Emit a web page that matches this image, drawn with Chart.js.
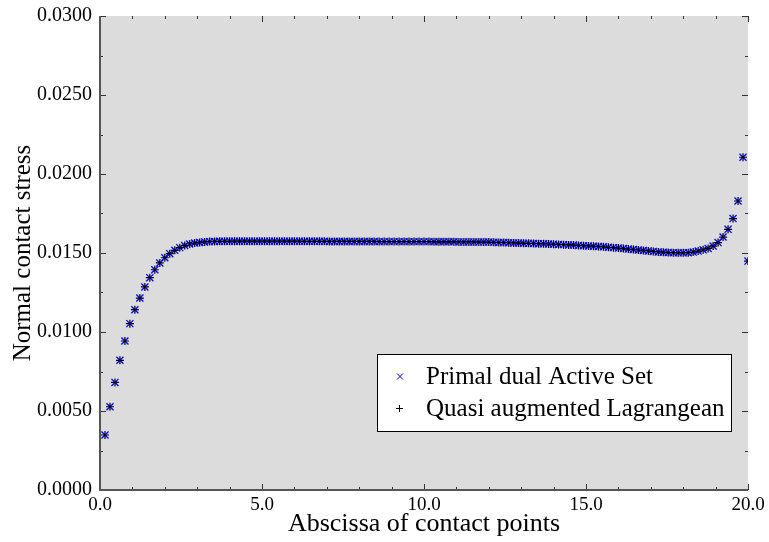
<!DOCTYPE html>
<html><head><meta charset="utf-8">
<script src="https://cdn.jsdelivr.net/npm/chart.js@4/dist/chart.umd.min.js"></script>
<style>html,body{margin:0;padding:0;background:#fff;}</style>
</head><body>
<canvas id="c" width="769" height="542" style="display:block"></canvas>
<script>
// Abscissa of the contact points
const abscissa = [
  0.154, 0.308, 0.462, 0.615, 0.769, 0.923, 1.077, 1.231, 1.385, 1.538,
  1.692, 1.846, 2.000, 2.154, 2.308, 2.462, 2.615, 2.769, 2.923, 3.077,
  3.231, 3.385, 3.538, 3.692, 3.846, 4.000, 4.154, 4.308, 4.462, 4.615,
  4.769, 4.923, 5.077, 5.231, 5.385, 5.538, 5.692, 5.846, 6.000, 6.154,
  6.308, 6.462, 6.615, 6.769, 6.923, 7.077, 7.231, 7.385, 7.538, 7.692,
  7.846, 8.000, 8.154, 8.308, 8.462, 8.615, 8.769, 8.923, 9.077, 9.231,
  9.385, 9.538, 9.692, 9.846, 10.000, 10.154, 10.308, 10.462, 10.615, 10.769,
  10.923, 11.077, 11.231, 11.385, 11.538, 11.692, 11.846, 12.000, 12.154, 12.308,
  12.462, 12.615, 12.769, 12.923, 13.077, 13.231, 13.385, 13.538, 13.692, 13.846,
  14.000, 14.154, 14.308, 14.462, 14.615, 14.769, 14.923, 15.077, 15.231, 15.385,
  15.538, 15.692, 15.846, 16.000, 16.154, 16.308, 16.462, 16.615, 16.769, 16.923,
  17.077, 17.231, 17.385, 17.538, 17.692, 17.846, 18.000, 18.154, 18.308, 18.462,
  18.615, 18.769, 18.923, 19.077, 19.231, 19.385, 19.538, 19.692, 19.846, 20.000
];
// Normal contact stress, Primal dual Active Set
const primalStress = [
  0.00348, 0.00527, 0.00681, 0.00821, 0.00943, 0.01053, 0.01141, 0.01215, 0.01285, 0.01344,
  0.01394, 0.01437, 0.01470, 0.01496, 0.01517, 0.01534, 0.01547, 0.01557, 0.01563, 0.01567,
  0.01570, 0.01572, 0.01573, 0.01574, 0.01574, 0.01575, 0.01575, 0.01575, 0.01575, 0.01575,
  0.01575, 0.01575, 0.01575, 0.01575, 0.01575, 0.01575, 0.01575, 0.01575, 0.01575, 0.01575,
  0.01574, 0.01574, 0.01574, 0.01574, 0.01574, 0.01573, 0.01573, 0.01573, 0.01573, 0.01573,
  0.01573, 0.01573, 0.01573, 0.01573, 0.01573, 0.01572, 0.01572, 0.01572, 0.01572, 0.01572,
  0.01572, 0.01572, 0.01572, 0.01572, 0.01572, 0.01572, 0.01571, 0.01571, 0.01571, 0.01571,
  0.01571, 0.01570, 0.01570, 0.01570, 0.01570, 0.01569, 0.01569, 0.01569, 0.01568, 0.01567,
  0.01566, 0.01565, 0.01564, 0.01563, 0.01562, 0.01561, 0.01560, 0.01559, 0.01558, 0.01557,
  0.01556, 0.01554, 0.01553, 0.01551, 0.01550, 0.01548, 0.01546, 0.01545, 0.01543, 0.01541,
  0.01539, 0.01536, 0.01534, 0.01531, 0.01528, 0.01525, 0.01522, 0.01519, 0.01516, 0.01513,
  0.01510, 0.01507, 0.01505, 0.01503, 0.01502, 0.01501, 0.01501, 0.01502, 0.01506, 0.01512,
  0.01520, 0.01529, 0.01544, 0.01566, 0.01601, 0.01650, 0.01718, 0.01829, 0.02106, 0.01449
];
// Normal contact stress, Quasi augmented Lagrangean (coincides with the above)
const quasiStress = primalStress.slice();

const seriesLabels = ['Primal dual Active Set', 'Quasi augmented Lagrangean'];
const xTitle = 'Abscissa of contact points';
const yTitle = 'Normal contact stress';
const xRange = [0, 20], xMajor = 5, xMinor = 1;
const yRange = [0, 0.03], yMajor = 0.005, yMinor = 0.0025;

const SERIF = "'Liberation Serif', 'Times New Roman', serif";

const plotBg = {
  id: 'plotBg',
  beforeDraw(chart) {
    const {ctx, chartArea: a} = chart;
    ctx.save();
    ctx.fillStyle = '#dcdcdc';
    ctx.fillRect(a.left, a.top, a.right - a.left, a.bottom - a.top);
    ctx.restore();
  }
};

const frameTicks = {
  id: 'frameTicks',
  afterDatasetsDraw(chart) {
    const {ctx, chartArea: a, scales: {x, y}} = chart;
    ctx.save();
    ctx.strokeStyle = '#333';
    ctx.lineWidth = 1;
    const eps = 1e-9;
    for (let v = xRange[0]; v <= xRange[1] + eps; v += xMinor) {
      const major = Math.abs(v / xMajor - Math.round(v / xMajor)) < 1e-6;
      const len = major ? 6 : 3;
      const px = Math.round(x.getPixelForValue(v)) + 0.5;
      ctx.beginPath();
      ctx.moveTo(px, a.bottom); ctx.lineTo(px, a.bottom - len);
      ctx.moveTo(px, a.top); ctx.lineTo(px, a.top + len);
      ctx.stroke();
    }
    for (let v = yRange[0]; v <= yRange[1] + eps; v += yMinor) {
      const major = Math.abs(v / yMajor - Math.round(v / yMajor)) < 1e-6;
      const len = major ? 6 : 3;
      const py = Math.round(y.getPixelForValue(v)) + 0.5;
      ctx.beginPath();
      ctx.moveTo(a.left, py); ctx.lineTo(a.left + len, py);
      ctx.moveTo(a.right, py); ctx.lineTo(a.right - len, py);
      ctx.stroke();
    }
    ctx.strokeStyle = '#555';
    ctx.lineWidth = 2;
    ctx.beginPath();
    ctx.moveTo(a.left, a.top); ctx.lineTo(a.left, a.bottom); ctx.lineTo(a.right, a.bottom);
    ctx.stroke();
    ctx.restore();
  }
};

const boxLegend = {
  id: 'boxLegend',
  afterDraw(chart) {
    const {ctx} = chart;
    const bx = 377.5, by = 354.5, bw = 354, bh = 77;
    ctx.save();
    ctx.fillStyle = '#fff';
    ctx.fillRect(bx, by, bw, bh);
    ctx.strokeStyle = '#000';
    ctx.lineWidth = 1;
    ctx.strokeRect(bx, by, bw, bh);
    const rows = [376.5, 408.5];
    chart.data.datasets.forEach((ds, i) => {
      const cy = rows[i];
      ctx.strokeStyle = ds.borderColor;
      ctx.lineWidth = 1;
      ctx.beginPath();
      if (ds.pointStyle === 'crossRot') {
        ctx.moveTo(397, cy - 3); ctx.lineTo(403, cy + 3);
        ctx.moveTo(397, cy + 3); ctx.lineTo(403, cy - 3);
      } else {
        ctx.moveTo(396, cy); ctx.lineTo(403, cy);
        ctx.moveTo(399.5, cy - 3.5); ctx.lineTo(399.5, cy + 3.5);
      }
      ctx.stroke();
      ctx.fillStyle = '#000';
      ctx.font = "25px " + SERIF;
      ctx.textBaseline = 'middle';
      ctx.textAlign = 'left';
      ctx.fillText(ds.label, 426, cy + 1);
    });
    ctx.restore();
  }
};

new Chart(document.getElementById('c'), {
  type: 'scatter',
  data: {
    datasets: [
      {
        label: seriesLabels[0],
        data: abscissa.map((v, i) => ({x: v, y: primalStress[i]})),
        pointStyle: 'crossRot',
        pointRadius: 5,
        borderColor: '#0000ff',
        backgroundColor: '#0000ff',
        borderWidth: 1.3,
        showLine: false,
        order: 2
      },
      {
        label: seriesLabels[1],
        data: abscissa.map((v, i) => ({x: v, y: quasiStress[i]})),
        pointStyle: 'cross',
        pointRadius: 4,
        borderColor: '#000000',
        backgroundColor: '#000000',
        borderWidth: 1.2,
        showLine: false,
        order: 1
      }
    ]
  },
  options: {
    responsive: false,
    animation: false,
    devicePixelRatio: 1,
    layout: {padding: {top: 16, right: 21, left: 0, bottom: 0}},
    plugins: {legend: {display: false}, tooltip: {enabled: false}},
    scales: {
      x: {
        type: 'linear', min: xRange[0], max: xRange[1],
        grid: {display: false, drawTicks: false},
        border: {display: false},
        ticks: {stepSize: xMajor, callback: v => Number(v).toFixed(1), color: '#000',
                font: {family: SERIF, size: 19}, padding: 4, maxRotation: 0, autoSkip: false},
        title: {display: true, text: xTitle, color: '#000', font: {family: SERIF, size: 26}, padding: {top: 0, bottom: 2}},
        afterFit: s => { s.height = 52; s.paddingLeft = 0; s.paddingRight = 0; }
      },
      y: {
        type: 'linear', min: yRange[0], max: yRange[1],
        grid: {display: false, drawTicks: false},
        border: {display: false},
        ticks: {stepSize: yMajor, callback: v => Number(v).toFixed(4), color: '#000',
                font: {family: SERIF, size: 20}, padding: 8, autoSkip: false},
        title: {display: true, text: yTitle, color: '#000', font: {family: SERIF, size: 25}, padding: {top: 8, bottom: 0}},
        afterFit: s => { s.width = 100; s.paddingTop = 0; s.paddingBottom = 0; }
      }
    }
  },
  plugins: [plotBg, frameTicks, boxLegend]
});
</script>
</body></html>
